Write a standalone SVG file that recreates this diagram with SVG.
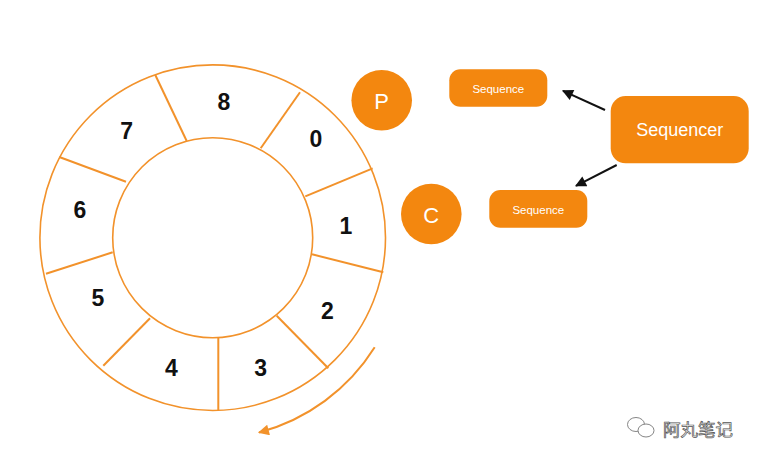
<svg xmlns="http://www.w3.org/2000/svg" width="758" height="461" viewBox="0 0 758 461">
<defs>
<style>
.ring{fill:none;stroke:#F2922B;stroke-width:1.6}
.div{stroke:#F2922B;stroke-width:2;fill:none}
.num{font-family:"Liberation Sans",Arial,sans-serif;font-weight:bold;font-size:23px;fill:#111;text-anchor:middle;dominant-baseline:central}
.node{fill:#F3870F}
.wt{font-family:"Liberation Sans",Arial,sans-serif;fill:#fff;text-anchor:middle;dominant-baseline:central}
.conn{stroke:#111;stroke-width:2;fill:none}
</style>
<marker id="ah" viewBox="0 0 10 10" refX="9" refY="5" markerWidth="6.5" markerHeight="5.5" orient="auto" markerUnits="strokeWidth">
<path d="M0,0L10,5L0,10z" fill="#111"/>
</marker>
<marker id="oah" viewBox="0 0 10 10" refX="9" refY="5" markerWidth="7" markerHeight="5.5" orient="auto" markerUnits="strokeWidth">
<path d="M0,0L10,5L0,10z" fill="#F2922B"/>
</marker>
</defs>
<rect width="758" height="461" fill="#fff"/>
<g id="ring">
<circle class="ring" cx="212.7" cy="237.7" r="172.8"/>
<circle class="ring" cx="212.7" cy="237.7" r="100"/>
<line class="div" x1="186.7" y1="141" x2="155.3" y2="75"/>
<line class="div" x1="260.7" y1="148.3" x2="300" y2="92.3"/>
<line class="div" x1="305.3" y1="196.3" x2="372.7" y2="168.3"/>
<line class="div" x1="312" y1="254.3" x2="383.3" y2="272.3"/>
<line class="div" x1="276.7" y1="315.7" x2="328.3" y2="368.3"/>
<line class="div" x1="218.3" y1="337.7" x2="218.3" y2="410"/>
<line class="div" x1="150" y1="318.3" x2="103.3" y2="365.7"/>
<line class="div" x1="112.7" y1="252.3" x2="46" y2="273.7"/>
<line class="div" x1="126" y1="181.7" x2="59.3" y2="157"/>
<text class="num" x="224" y="102">8</text>
<text class="num" x="126.7" y="131">7</text>
<text class="num" x="316" y="139">0</text>
<text class="num" x="80" y="210">6</text>
<text class="num" x="346" y="226">1</text>
<text class="num" x="98" y="298">5</text>
<text class="num" x="327.3" y="311">2</text>
<text class="num" x="171.3" y="368">4</text>
<text class="num" x="260.7" y="368">3</text>
</g>
<g id="rotation">
<path d="M374.7,347.3 A196 196 0 0 1 259,432.5" fill="none" stroke="#F2922B" stroke-width="2" marker-end="url(#oah)"/>
</g>
<g id="P">
<circle class="node" cx="381.7" cy="100.3" r="30.3"/>
<text class="wt" x="381.7" y="101" font-size="22">P</text>
</g>
<g id="C">
<circle class="node" cx="431.3" cy="214" r="30.3"/>
<text class="wt" x="431.3" y="215" font-size="22">C</text>
</g>
<g id="seqP">
<rect class="node" x="449.3" y="69.3" width="98" height="37.4" rx="11"/>
<text class="wt" x="498.3" y="88.5" font-size="11.5">Sequence</text>
</g>
<g id="seqC">
<rect class="node" x="489.3" y="190" width="98" height="37.7" rx="11"/>
<text class="wt" x="538.3" y="209.5" font-size="11.5">Sequence</text>
</g>
<g id="sequencer">
<rect class="node" x="610.7" y="96" width="138" height="67.3" rx="15"/>
<text class="wt" x="679.7" y="130" font-size="18">Sequencer</text>
</g>
<g id="connectors">
<line class="conn" x1="605" y1="110" x2="563" y2="90.8" marker-end="url(#ah)"/>
<line class="conn" x1="616.7" y1="165" x2="576" y2="185.8" marker-end="url(#ah)"/>
</g>
<g id="watermark">
<ellipse cx="636" cy="424.5" rx="8.5" ry="7" fill="#fff" stroke="#777" stroke-width="0.9"/>
<ellipse cx="646" cy="430.5" rx="8" ry="6.5" fill="#fff" stroke="#777" stroke-width="0.9"/>
<text x="698" y="428.5" font-family="'Noto Sans CJK SC',sans-serif" font-size="17.5" fill="#eee" stroke="#555" stroke-width="0.7" text-anchor="middle" dominant-baseline="central">阿丸笔记</text>
</g>
</svg>
